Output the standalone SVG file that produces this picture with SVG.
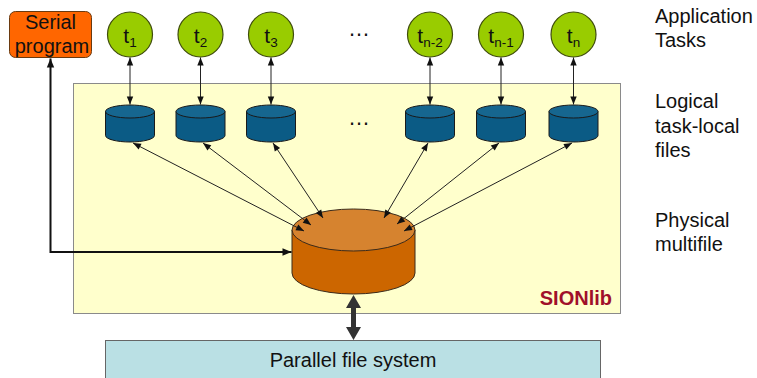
<svg xmlns="http://www.w3.org/2000/svg" width="757" height="378" viewBox="0 0 757 378">
<defs>
<style>
.lbl{font-family:"Liberation Sans",Arial,sans-serif;font-size:20px;fill:#111}
.tk{font-family:"Liberation Sans",Arial,sans-serif;font-size:21px;fill:#111;text-anchor:middle}
.sub{font-size:13.5px}
.task{fill:#99CC00;stroke:#3f4d0c;stroke-width:1.2}
.cylb{fill:#0B5B85;stroke:#1a1a1a;stroke-width:1}
.cylt{fill:#16668F;stroke:#1a1a1a;stroke-width:1}
.thin{stroke:#222;stroke-width:1;fill:none;marker-start:url(#ah);marker-end:url(#ah)}
</style>
<marker id="ah" markerUnits="userSpaceOnUse" markerWidth="10" markerHeight="10" viewBox="0 0 10 10" refX="9" refY="5" orient="auto-start-reverse">
<path d="M1,1.8 L9,5 L1,8.2 Z" fill="#111"/>
</marker>
<marker id="ah2" markerUnits="userSpaceOnUse" markerWidth="11" markerHeight="11" viewBox="0 0 11 11" refX="10" refY="5.5" orient="auto-start-reverse">
<path d="M1,1.8 L10,5.5 L1,9.2 Z" fill="#111"/>
</marker>
</defs>
<rect width="757" height="378" fill="#ffffff"/>

<g id="sionlib">
<rect x="73.5" y="83.5" width="547" height="230" fill="#FFFFCC" stroke="#8a8a8a" stroke-width="1"/>
<text x="612" y="305" text-anchor="end" style="font-family:'Liberation Sans',Arial,sans-serif;font-size:20px;font-weight:bold;fill:#A0102A">SIONlib</text>
</g>

<g id="serial-program">
<rect x="9.5" y="11.5" width="82" height="46" rx="6" fill="#FF6600" stroke="#6a3a10" stroke-width="1"/>
<text class="lbl" x="50.5" y="29" text-anchor="middle">Serial</text>
<text class="lbl" x="52" y="53" text-anchor="middle">program</text>
</g>

<g id="tasks">
<g id="t1"><circle class="task" cx="130" cy="34.5" r="22.5"/><text class="tk" x="130" y="43">t<tspan class="sub" dy="3.5">1</tspan></text></g>
<g id="t2"><circle class="task" cx="200.5" cy="34.5" r="22.5"/><text class="tk" x="200.5" y="43">t<tspan class="sub" dy="3.5">2</tspan></text></g>
<g id="t3"><circle class="task" cx="271" cy="34.5" r="22.5"/><text class="tk" x="271" y="43">t<tspan class="sub" dy="3.5">3</tspan></text></g>
<g id="tn-2"><circle class="task" cx="430" cy="34.5" r="22.5"/><text class="tk" x="430" y="43">t<tspan class="sub" dy="3.5">n-2</tspan></text></g>
<g id="tn-1"><circle class="task" cx="501" cy="34.5" r="22.5"/><text class="tk" x="501" y="43">t<tspan class="sub" dy="3.5">n-1</tspan></text></g>
<g id="tn"><circle class="task" cx="573.5" cy="34.5" r="22.5"/><text class="tk" x="573.5" y="43">t<tspan class="sub" dy="3.5">n</tspan></text></g>
<text class="lbl" x="359" y="36" text-anchor="middle" style="font-size:22px">…</text>
</g>

<g id="local-files">
<g id="f1"><path class="cylb" d="M105.5,111.5 V135.5 A24.5,6.5 0 0 0 154.5,135.5 V111.5 Z"/><ellipse class="cylt" cx="130" cy="111.5" rx="24.5" ry="6.5"/></g>
<g id="f2"><path class="cylb" d="M176,111.5 V135.5 A24.5,6.5 0 0 0 225,135.5 V111.5 Z"/><ellipse class="cylt" cx="200.5" cy="111.5" rx="24.5" ry="6.5"/></g>
<g id="f3"><path class="cylb" d="M246.5,111.5 V135.5 A24.5,6.5 0 0 0 295.5,135.5 V111.5 Z"/><ellipse class="cylt" cx="271" cy="111.5" rx="24.5" ry="6.5"/></g>
<g id="fn-2"><path class="cylb" d="M405.5,111.5 V135.5 A24.5,6.5 0 0 0 454.5,135.5 V111.5 Z"/><ellipse class="cylt" cx="430" cy="111.5" rx="24.5" ry="6.5"/></g>
<g id="fn-1"><path class="cylb" d="M476.5,111.5 V135.5 A24.5,6.5 0 0 0 525.5,135.5 V111.5 Z"/><ellipse class="cylt" cx="501" cy="111.5" rx="24.5" ry="6.5"/></g>
<g id="fn"><path class="cylb" d="M549,111.5 V135.5 A24.5,6.5 0 0 0 598,135.5 V111.5 Z"/><ellipse class="cylt" cx="573.5" cy="111.5" rx="24.5" ry="6.5"/></g>
<text class="lbl" x="359" y="125" text-anchor="middle" style="font-size:22px">…</text>
</g>

<g id="multifile">
<path d="M292,230 V273 A61.5,21 0 0 0 415,273 V230 Z" fill="#CC6600" stroke="#3a2a1a" stroke-width="1"/>
<ellipse cx="353.5" cy="230" rx="61.5" ry="21" fill="#D6832F" stroke="#3a2a1a" stroke-width="1"/>
</g>

<g id="pfs">
<rect x="105.5" y="340.5" width="495" height="45" fill="#BAE0E4" stroke="#666" stroke-width="1"/>
<text class="lbl" x="353" y="367" text-anchor="middle">Parallel file system</text>
</g>

<g id="labels">
<text class="lbl" x="655" y="23">Application</text>
<text class="lbl" x="655" y="47">Tasks</text>
<text class="lbl" x="655" y="108">Logical</text>
<text class="lbl" x="655" y="133">task-local</text>
<text class="lbl" x="655" y="157">files</text>
<text class="lbl" x="655" y="227">Physical</text>
<text class="lbl" x="655" y="251">multifile</text>
</g>

<g id="connectors">
<line class="thin" x1="130" y1="57.5" x2="130" y2="104.5"/>
<line class="thin" x1="200.5" y1="57.5" x2="200.5" y2="104.5"/>
<line class="thin" x1="271" y1="57.5" x2="271" y2="104.5"/>
<line class="thin" x1="430" y1="57.5" x2="430" y2="104.5"/>
<line class="thin" x1="501" y1="57.5" x2="501" y2="104.5"/>
<line class="thin" x1="573.5" y1="57.5" x2="573.5" y2="104.5"/>

<line class="thin" x1="133" y1="143" x2="304" y2="231"/>
<line class="thin" x1="203" y1="143" x2="311" y2="225"/>
<line class="thin" x1="273" y1="143" x2="323" y2="218"/>
<line class="thin" x1="428" y1="143" x2="384" y2="218"/>
<line class="thin" x1="499" y1="143" x2="397" y2="224"/>
<line class="thin" x1="572" y1="143" x2="404" y2="231"/>

<path d="M50.5,58.5 V252 H291.5" fill="none" stroke="#111" stroke-width="2" marker-start="url(#ah2)" marker-end="url(#ah2)"/>

<path d="M353.5,295 L361,308 L356,308 L356,327 L361,327 L353.5,340 L346,327 L351,327 L351,308 L346,308 Z" fill="#333"/>
</g>
</svg>
